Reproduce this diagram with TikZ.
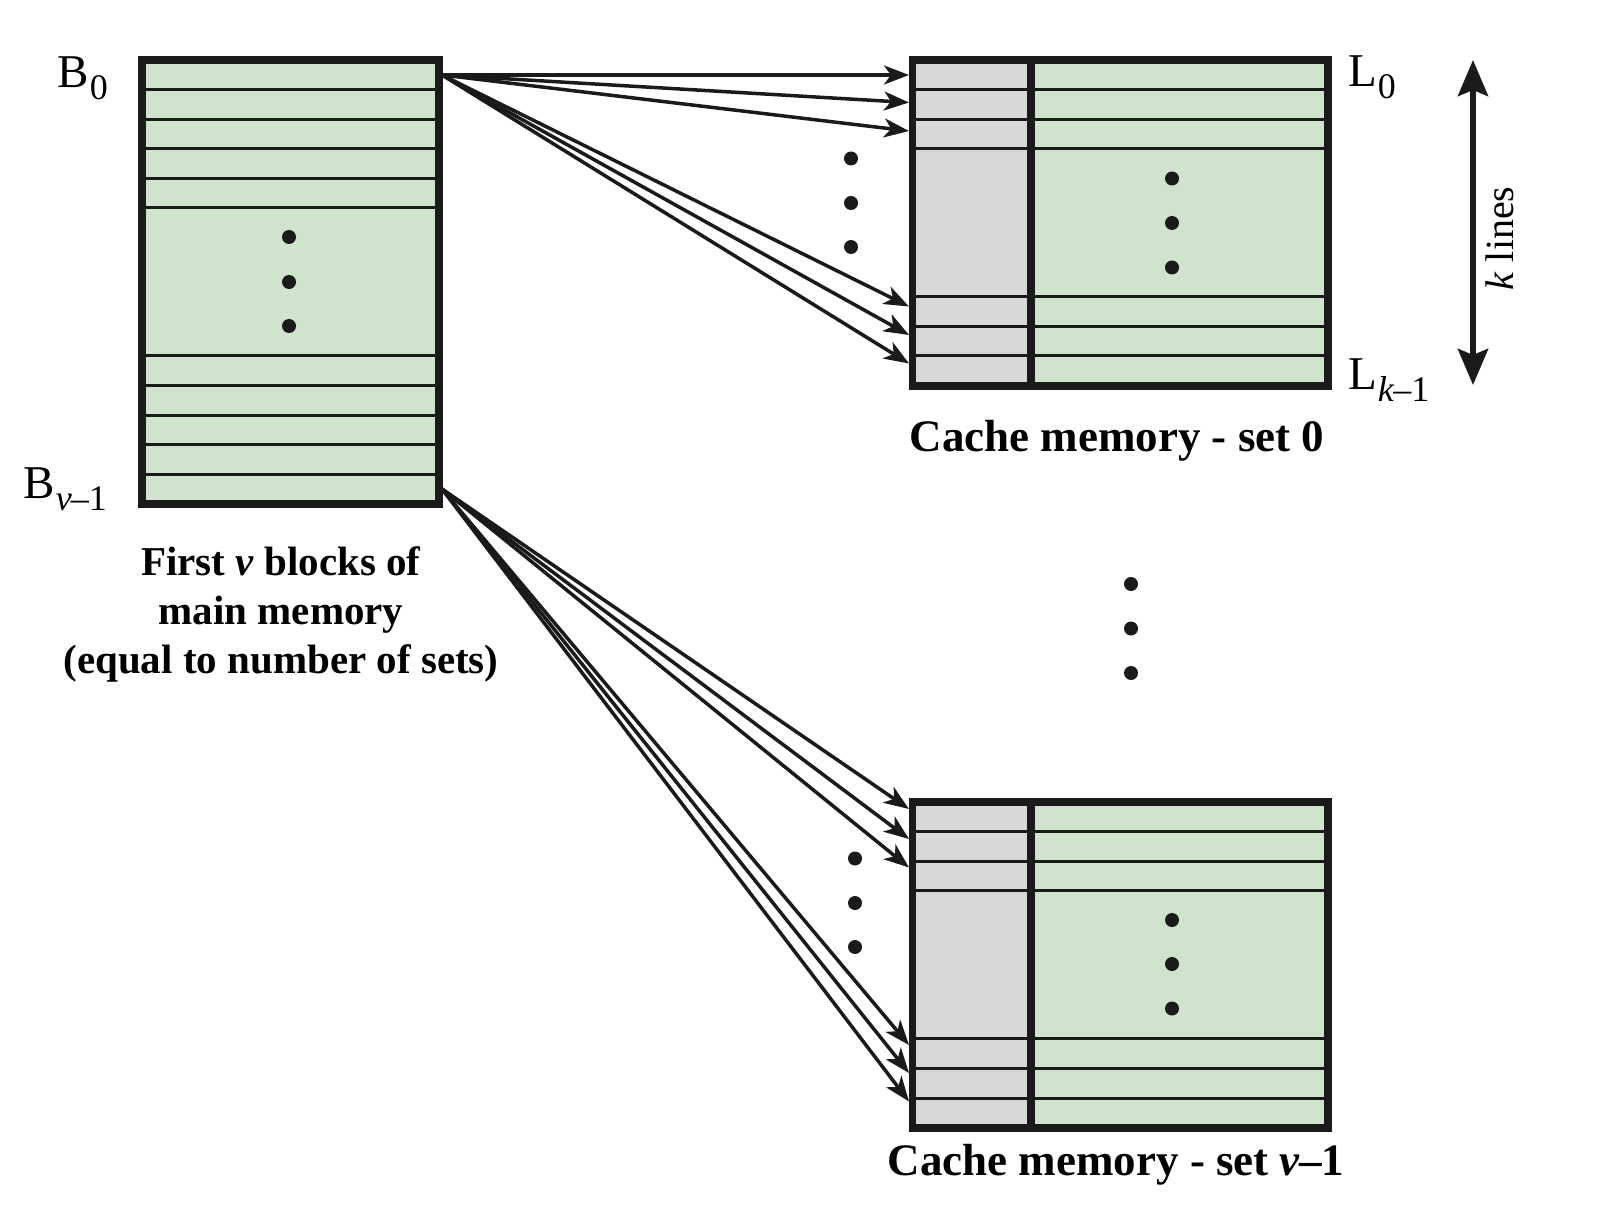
\documentclass[tikz,border=0pt]{standalone}
\usepackage{fontspec}
\setmainfont{Liberation Serif}
\usetikzlibrary{arrows.meta}
\definecolor{memgreen}{RGB}{208,227,205}
\definecolor{tagrey}{RGB}{216,216,216}
\definecolor{ink}{RGB}{26,26,26}
\newcommand{\lowsub}[1]{\kern1pt\raisebox{-12pt}{\fontsize{36}{36}\selectfont #1}}
\begin{document}
\begin{tikzpicture}[x=1pt,y=-1pt,
  border/.style={draw=ink,line width=7.5pt},
  rowline/.style={draw=ink,line width=3pt},
  conn/.style={draw=ink,line width=3.5pt,-{Stealth[length=25pt,width=19pt,inset=7pt]}},
  dot/.style={circle,fill=ink,inner sep=0pt,minimum size=14pt},
  lbl/.style={inner sep=0pt,font=\fontsize{47}{50}\selectfont},
  captext/.style={inner sep=0pt,font=\fontsize{45}{50}\selectfont\bfseries},
  mcaptext/.style={inner sep=0pt,align=center,font=\fontsize{41}{49}\selectfont\bfseries},
]
\useasboundingbox (0,0) rectangle (1618,1206);

% ---------- main memory ----------
\node[fill=memgreen,inner sep=0pt,minimum width=297pt,minimum height=444pt] (mm) at (290.5,282) {};
\foreach \y in {89.6,119.2,148.8,178.4,208,356,385.6,415.2,444.8,474.4}
  \draw[rowline] (142,\y) -- (439,\y);
\draw[border] (mm.north west) rectangle (mm.south east);
\node[dot] (md1) at (289,237) {};
\node[dot] (md2) at (289,282) {};
\node[dot] (md3) at (289,326) {};
\node[lbl,anchor=base east] (b0) at (108,88) {B\lowsub{0}};
\node[lbl,anchor=base east] (bv) at (107,498) {B\lowsub{\textit{v}\kern-1pt–1}};
\node[mcaptext] (mmcap) at (281,614) {First \textit{v} blocks of\\main memory\\(equal to number of sets)};

% ---------- cache set 0 ----------
\node[fill=tagrey,inner sep=0pt,minimum width=118.5pt,minimum height=325.6pt] (c0tag) at (971.75,222.8) {};
\node[fill=memgreen,inner sep=0pt,minimum width=297pt,minimum height=325.6pt] (c0dat) at (1179.5,222.8) {};
\foreach \y in {89.6,119.2,148.8,296.8,326.4,356}
  \draw[rowline] (912.5,\y) -- (1328,\y);
\draw[border] (c0tag.north west) rectangle (c0dat.south east);
\draw[border] (c0tag.north east) -- (c0tag.south east);
\node[dot] (cd01) at (1172,178.5) {};
\node[dot] (cd02) at (1172,223) {};
\node[dot] (cd03) at (1172,267.5) {};
\node[lbl,anchor=base west] (l0) at (1348,87) {L\lowsub{0}};
\node[lbl,anchor=base west] (lk) at (1348,390) {L\lowsub{\textit{k}\kern-1pt–1}};
\node[captext,anchor=base] (c0cap) at (1117,451) {Cache memory - set 0};

% ---------- cache set v-1 ----------
\node[fill=tagrey,inner sep=0pt,minimum width=118.5pt,minimum height=325.6pt] (c1tag) at (971.75,964.8) {};
\node[fill=memgreen,inner sep=0pt,minimum width=297pt,minimum height=325.6pt] (c1dat) at (1179.5,964.8) {};
\foreach \y in {831.6,861.2,890.8,1038.8,1068.4,1098}
  \draw[rowline] (912.5,\y) -- (1328,\y);
\draw[border] (c1tag.north west) rectangle (c1dat.south east);
\draw[border] (c1tag.north east) -- (c1tag.south east);
\node[dot] (cd11) at (1172,920) {};
\node[dot] (cd12) at (1172,964) {};
\node[dot] (cd13) at (1172,1008.5) {};
\node[captext,anchor=base] (c1cap) at (1116,1175) {Cache memory - set \textit{v}\kern-1pt–1};

% ---------- dots between ----------
\node[dot] (ld01) at (851,158.5) {};
\node[dot] (ld02) at (851,203) {};
\node[dot] (ld03) at (851,247) {};
\node[dot] (ld11) at (855,858.5) {};
\node[dot] (ld12) at (855,903) {};
\node[dot] (ld13) at (855,947) {};
\node[dot] (vd1) at (1131,584) {};
\node[dot] (vd2) at (1131,628.5) {};
\node[dot] (vd3) at (1131,673) {};

% ---------- arrows ----------
\coordinate (s0) at (442,75);
\coordinate (s1) at (442,489);
\coordinate (t00) at (909,75);
\coordinate (t01) at (909,102.5);
\coordinate (t02) at (909,131);
\coordinate (t03) at (909,306.5);
\coordinate (t04) at (909,335);
\coordinate (t05) at (909,363.5);
\coordinate (t10) at (909,809);
\coordinate (t11) at (909,839);
\coordinate (t12) at (909,867.5);
\coordinate (t13) at (909,1045);
\coordinate (t14) at (909,1073);
\coordinate (t15) at (909,1101.5);
\foreach \t in {t00,t01,t02,t03,t04,t05} \draw[conn] (s0) -- (\t);
\foreach \t in {t10,t11,t12,t13,t14,t15} \draw[conn] (s1) -- (\t);

% ---------- k lines ----------
\coordinate (ktop) at (1473,60);
\coordinate (kbot) at (1473,385);
\draw[draw=ink,line width=6pt,{Stealth[length=36pt,width=30pt,inset=6pt]}-{Stealth[length=36pt,width=30pt,inset=6pt]}] (ktop) -- (kbot);
\node[inner sep=0pt,rotate=90,anchor=base,font=\fontsize{40}{44}\selectfont] (klab) at (1513,238.5) {\textit{k} lines};
\end{tikzpicture}
\end{document}
